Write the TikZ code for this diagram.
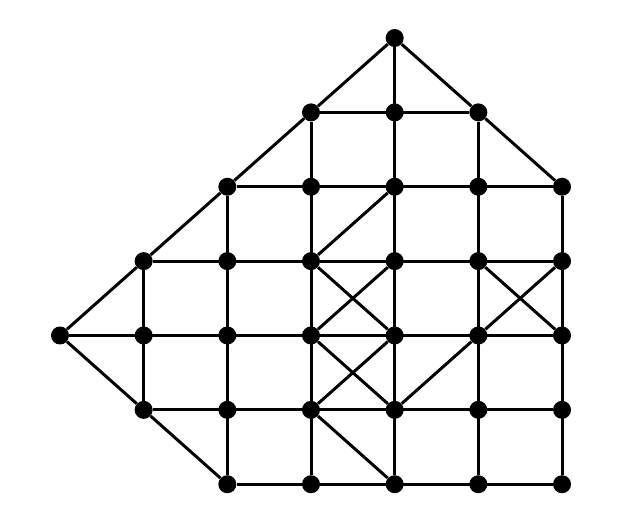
\documentclass[tikz,border=0pt]{standalone}
\usepackage{tikz}
\usetikzlibrary{positioning}

\tikzset{
  dot/.style={circle, fill=black, inner sep=0pt, minimum size=0.36cm},
  link/.style={line width=1.7pt, line join=round}
}

\begin{document}
\begin{tikzpicture}[x=1.673cm, y=-1.487cm]
\useasboundingbox (-0.717,-0.511) rectangle (6.669,6.350);
% grid points, v<row><col>
\foreach \r/\cs in {0/{4}, 1/{3,4,5}, 2/{2,3,4,5,6}, 3/{1,2,3,4,5,6}, 4/{0,1,2,3,4,5,6}, 5/{1,2,3,4,5,6}, 6/{2,3,4,5,6}} {
  \foreach \c in \cs {
    \node[dot] (v\r\c) at (\c,\r) {};
  }
}
% rows and columns
\foreach \r/\a/\b in {1/3/5, 2/2/6, 3/1/6, 4/0/6, 5/1/6, 6/2/6}
  \draw[link] (v\r\a) -- (v\r\b);
\foreach \c/\a/\b in {1/3/5, 2/2/6, 3/1/6, 4/0/6, 5/1/6, 6/2/6}
  \draw[link] (v\a\c) -- (v\b\c);
% outline
\draw[link] (v40) -- (v31) -- (v22) -- (v13) -- (v04) -- (v15) -- (v26);
\draw[link] (v40) -- (v51) -- (v62);
% diagonals inside
\draw[link] (v33) -- (v24);
\draw[link] (v33) -- (v44);
\draw[link] (v43) -- (v34);
\draw[link] (v35) -- (v46);
\draw[link] (v45) -- (v36);
\draw[link] (v43) -- (v54);
\draw[link] (v53) -- (v44);
\draw[link] (v54) -- (v45);
\draw[link] (v53) -- (v64);
\end{tikzpicture}
\end{document}
